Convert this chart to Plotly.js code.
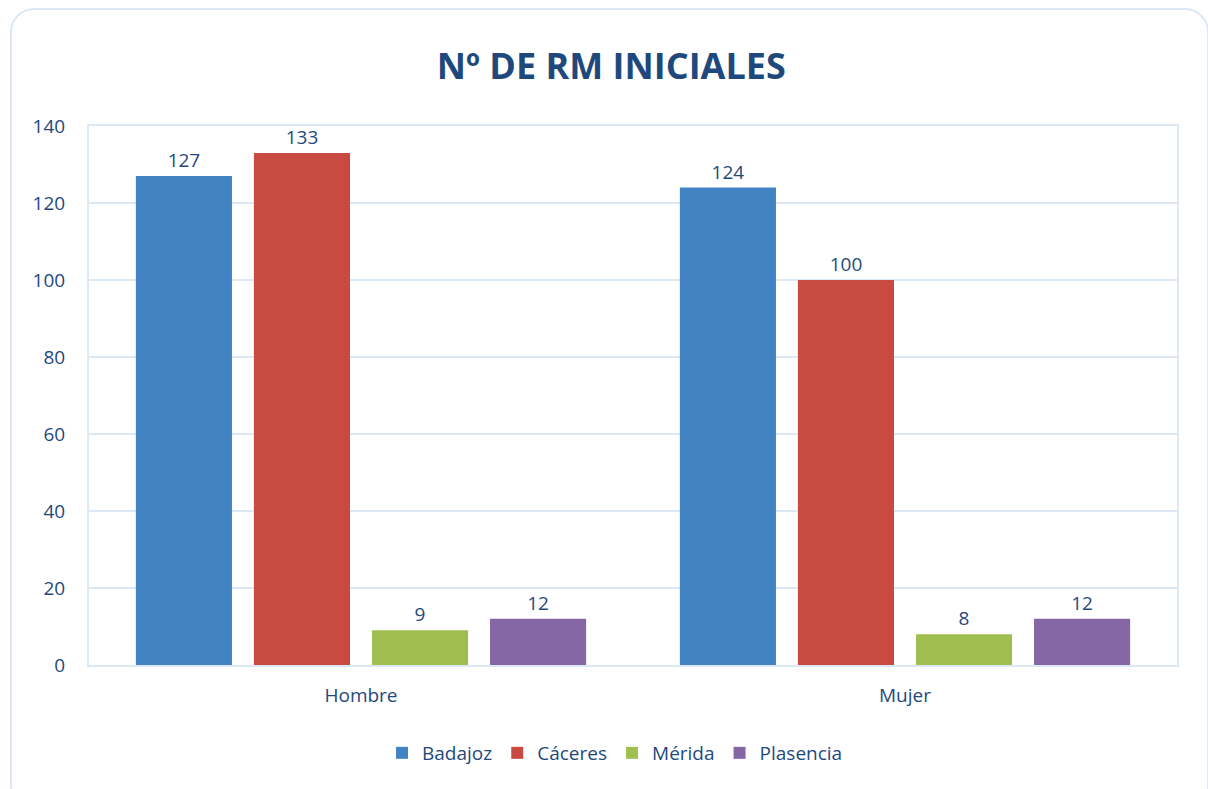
<!DOCTYPE html>
<html>
<head>
<meta charset="utf-8">
<script src="https://cdn.plot.ly/plotly-3.0.1.min.js"></script>
<style>
  html, body { margin: 0; padding: 0; background: #fff; }
  #gd { position: absolute; left: 0; top: 0; width: 1208px; height: 789px; }
  .frame {
    position: absolute; left: 10px; top: 8px; width: 1195px; height: 800px;
    border: 2px solid #dde8f4; border-radius: 24px; pointer-events: none;
  }
</style>
</head>
<body>
<div id="gd"></div>
<div class="frame"></div>
<script>
// categories and values
const categories = ['Hombre', 'Mujer'];
const seriesNames = ['Badajoz', 'Cáceres', 'Mérida', 'Plasencia'];
const badajoz = [127, 124];
const caceres = [133, 100];
const merida = [9, 8];
const plasencia = [12, 12];
const seriesValues = [badajoz, caceres, merida, plasencia];
const seriesColors = ['#4283c4', '#c94a40', '#9fbf50', '#8667a6'];
const yTicks = [0, 20, 40, 60, 80, 100, 120, 140];

const textColor = '#1f497d';
const gridColor = '#dce8f4';

const data = seriesNames.map((name, i) => ({
  type: 'bar',
  name: name,
  x: categories,
  y: seriesValues[i],
  text: seriesValues[i].map(String),
  textposition: 'outside',
  cliponaxis: false,
  textfont: { size: 19, color: textColor },
  marker: { color: seriesColors[i], line: { width: 0 } },
  hoverinfo: 'x+y+name'
}));

const layout = {
  width: 1208,
  height: 789,
  margin: { l: 89, r: 31, t: 126, b: 124 },
  paper_bgcolor: 'rgba(0,0,0,0)',
  plot_bgcolor: '#fff',
  font: { family: 'Open Sans, Noto Sans, sans-serif', color: textColor },
  title: {
    text: 'Nº DE RM INICIALES',
    font: { size: 36, weight: 'bold', color: textColor, family: 'Open Sans, Noto Sans, sans-serif' },
    x: 0.506, xanchor: 'center',
    y: 1 - 66 / 789, yref: 'container', yanchor: 'middle'
  },
  barmode: 'group',
  bargap: 0.132,
  bargroupgap: 0.186,
  xaxis: {
    showgrid: false,
    showline: true, linecolor: gridColor, linewidth: 2, mirror: true,
    ticks: '',
    ticklabelstandoff: 12,
    tickfont: { size: 19, color: textColor }
  },
  yaxis: {
    range: [0, 140],
    tickvals: yTicks,
    showgrid: true, gridcolor: gridColor, gridwidth: 2,
    showline: true, linecolor: gridColor, linewidth: 2, mirror: true,
    zeroline: false,
    ticks: '',
    ticklabelstandoff: 18,
    tickfont: { size: 19, color: textColor }
  },
  showlegend: true,
  legend: {
    orientation: 'h',
    xref: 'container', x: 615 / 1208, xanchor: 'center',
    yref: 'container', y: 1 - 753 / 789, yanchor: 'middle',
    font: { size: 19, color: textColor },
    itemwidth: 30,
    tracegroupgap: 0
  }
};

Plotly.newPlot('gd', data, layout, { displayModeBar: false, staticPlot: true });
</script>
</body>
</html>
